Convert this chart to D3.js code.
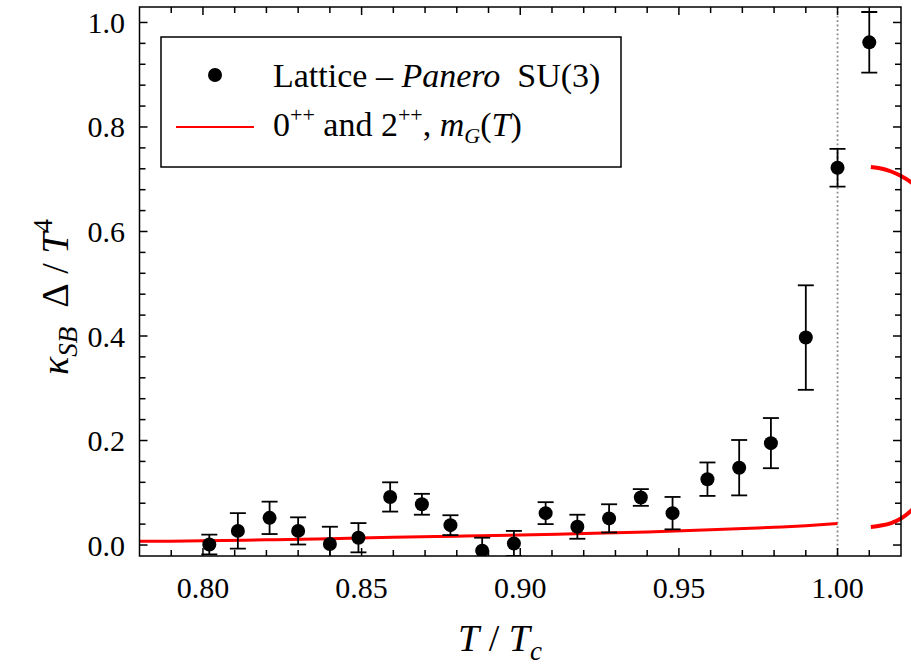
<!DOCTYPE html>
<html>
<head>
<meta charset="utf-8">
<script src="https://cdn.jsdelivr.net/npm/d3@7"></script>
<style>
  body { margin: 0; background: #fff; }
  svg text { font-family: "Liberation Serif", "Times New Roman", Times, serif; }
</style>
</head>
<body>
<div id="chart"></div>
<script>
// lattice points (Panero SU(3)), T/Tc, kappa_SB * Delta / T^4, error
const latticeT = [0.802, 0.811, 0.821, 0.830, 0.840, 0.849, 0.859, 0.869, 0.878, 0.888, 0.898,
                  0.908, 0.918, 0.928, 0.938, 0.948, 0.959, 0.969, 0.979, 0.990, 1.000, 1.010];
const latticeVal = [0.001, 0.027, 0.052, 0.027, 0.002, 0.014, 0.092, 0.078, 0.038, -0.011, 0.003,
                    0.061, 0.035, 0.051, 0.091, 0.061, 0.126, 0.148, 0.195, 0.397, 0.722, 0.962];
const latticeErr = [0.019, 0.034, 0.031, 0.026, 0.033, 0.028, 0.028, 0.020, 0.019, 0.025, 0.024,
                    0.021, 0.023, 0.027, 0.016, 0.031, 0.032, 0.053, 0.048, 0.100, 0.036, 0.058];

// model curve 0++ and 2++, m_G(T), below Tc
const curveT = [0.78, 0.80, 0.82, 0.84, 0.86, 0.88, 0.90, 0.92, 0.94, 0.96, 0.98, 0.99, 1.00];
const curveVal = [0.007, 0.008, 0.010, 0.012, 0.015, 0.017, 0.019, 0.022, 0.025, 0.029, 0.034, 0.037, 0.041];

// the two branches above Tc (they run off the frame)
const arcUpT = [1.0105, 1.0137, 1.0169, 1.0200, 1.0231, 1.0263];
const arcUpVal = [0.7234, 0.7206, 0.7148, 0.7062, 0.6947, 0.6790];
const arcLoT = [1.0105, 1.0137, 1.0169, 1.0200, 1.0231, 1.0263];
const arcLoVal = [0.0344, 0.0373, 0.0421, 0.0507, 0.0651, 0.0861];

const xTicks = [0.80, 0.85, 0.90, 0.95, 1.00];
const yTicks = [0.0, 0.2, 0.4, 0.6, 0.8, 1.0];

const width = 911, height = 665;
const plot = { left: 139.5, right: 901, top: 7, bottom: 556 };
const serif = "Liberation Serif, Times New Roman, Times, serif";
const nb = "\u00a0";

const x = d3.scaleLinear().domain([0.78, 1.02]).range([plot.left, plot.right]);
const y = d3.scaleLinear().domain([-0.0210, 1.0296]).range([plot.bottom, plot.top]);

const svg = d3.select("#chart").append("svg")
    .attr("width", width)
    .attr("height", height)
    .attr("font-family", serif);

svg.append("rect").attr("width", width).attr("height", height).attr("fill", "#fff");

svg.append("defs").append("clipPath").attr("id", "clip")
  .append("rect")
    .attr("x", plot.left).attr("y", plot.top)
    .attr("width", plot.right - plot.left).attr("height", plot.bottom - plot.top);

// dotted line at Tc
svg.append("line")
    .attr("x1", x(1.0)).attr("x2", x(1.0))
    .attr("y1", plot.top).attr("y2", plot.bottom)
    .attr("stroke", "#888")
    .attr("stroke-width", 1.8)
    .attr("stroke-dasharray", "1.8,2.6");

// model curves
const line = d3.line().x(d => x(d[0])).y(d => y(d[1])).curve(d3.curveMonotoneX);
svg.append("path")
    .attr("d", line(d3.zip(curveT, curveVal)))
    .attr("fill", "none").attr("stroke", "#f00").attr("stroke-width", 3);

const arcLine = d3.line().x(d => x(d[0])).y(d => y(d[1])).curve(d3.curveCatmullRom);
[[arcUpT, arcUpVal], [arcLoT, arcLoVal]].forEach(([ts, vs]) => {
    svg.append("path")
        .attr("d", arcLine(d3.zip(ts, vs)))
        .attr("fill", "none").attr("stroke", "#f00").attr("stroke-width", 4);
});

// lattice points with error bars
const pts = svg.append("g").attr("clip-path", "url(#clip)");
const lattice = d3.zip(latticeT, latticeVal, latticeErr);
const capW = 8;
lattice.forEach(([t, v, e]) => {
    const cx = x(t);
    const g = pts.append("g").attr("stroke", "#000").attr("stroke-width", 1.8);
    g.append("line").attr("x1", cx).attr("x2", cx).attr("y1", y(v - e)).attr("y2", y(v + e));
    g.append("line").attr("x1", cx - capW).attr("x2", cx + capW).attr("y1", y(v + e)).attr("y2", y(v + e));
    g.append("line").attr("x1", cx - capW).attr("x2", cx + capW).attr("y1", y(v - e)).attr("y2", y(v - e));
});
pts.selectAll("circle").data(lattice).join("circle")
    .attr("cx", d => x(d[0]))
    .attr("cy", d => y(d[1]))
    .attr("r", 7)
    .attr("fill", "#000");

// frame + ticks
const frame = svg.append("g").attr("stroke", "#000").attr("stroke-width", 1.5);
frame.append("rect")
    .attr("x", plot.left).attr("y", plot.top)
    .attr("width", plot.right - plot.left).attr("height", plot.bottom - plot.top)
    .attr("fill", "none");

const xMinor = d3.range(79, 102).map(i => i / 100);
xMinor.forEach(t => {
    const major = Math.abs(t * 20 - Math.round(t * 20)) < 1e-6;
    const len = major ? 8 : 6;
    frame.append("line").attr("x1", x(t)).attr("x2", x(t)).attr("y1", plot.bottom).attr("y2", plot.bottom - len);
    frame.append("line").attr("x1", x(t)).attr("x2", x(t)).attr("y1", plot.top).attr("y2", plot.top + len);
});
const yMinor = d3.range(0, 26).map(i => i * 0.04);
yMinor.forEach(v => {
    const major = Math.abs(v * 5 - Math.round(v * 5)) < 1e-6;
    const len = major ? 8 : 6;
    frame.append("line").attr("x1", plot.left).attr("x2", plot.left + len).attr("y1", y(v)).attr("y2", y(v));
    frame.append("line").attr("x1", plot.right).attr("x2", plot.right - len).attr("y1", y(v)).attr("y2", y(v));
});

// tick labels
svg.append("g").selectAll("text").data(xTicks).join("text")
    .attr("x", d => x(d))
    .attr("y", 598)
    .attr("text-anchor", "middle")
    .attr("font-family", serif)
    .attr("font-size", 30)
    .text(d => d3.format(".2f")(d));

svg.append("g").selectAll("text").data(yTicks).join("text")
    .attr("x", 125)
    .attr("y", d => y(d))
    .attr("dy", "0.35em")
    .attr("text-anchor", "end")
    .attr("font-family", serif)
    .attr("font-size", 30)
    .text(d => d3.format(".1f")(d));

// axis titles
const xl = svg.append("text")
    .attr("x", 500).attr("y", 651)
    .attr("text-anchor", "middle")
    .attr("font-family", serif)
    .attr("font-size", 38);
xl.append("tspan").attr("font-style", "italic").text("T");
xl.append("tspan").text(nb + "/" + nb);
xl.append("tspan").attr("font-style", "italic").text("T");
xl.append("tspan").attr("font-style", "italic").attr("font-size", 27).attr("dy", 9).text("c");

const yl = svg.append("text")
    .attr("transform", "translate(68,297) rotate(-90)")
    .attr("text-anchor", "middle")
    .attr("font-family", serif)
    .attr("font-size", 38);
yl.append("tspan").attr("font-style", "italic").text("κ");
yl.append("tspan").attr("font-style", "italic").attr("font-size", 27).attr("dy", 9).text("SB");
yl.append("tspan").attr("dy", -9).text(nb + nb + "Δ" + nb + "/" + nb);
yl.append("tspan").attr("font-style", "italic").text("T");
yl.append("tspan").attr("font-size", 27).attr("dy", -16).text("4");

// legend
const lg = svg.append("g");
lg.append("rect")
    .attr("x", 161).attr("y", 37).attr("width", 460).attr("height", 130)
    .attr("fill", "#fff").attr("stroke", "#000").attr("stroke-width", 1.5);
lg.append("circle").attr("cx", 215).attr("cy", 75).attr("r", 7).attr("fill", "#000");
lg.append("line").attr("x1", 176).attr("x2", 254).attr("y1", 127).attr("y2", 127)
    .attr("stroke", "#f00").attr("stroke-width", 2);

const t1 = lg.append("text").attr("x", 273).attr("y", 87)
    .attr("font-family", serif).attr("font-size", 34);
t1.append("tspan").text("Lattice \u2013 ");
t1.append("tspan").attr("font-style", "italic").text("Panero");
t1.append("tspan").text(nb + " SU(3)");

const t2 = lg.append("text").attr("x", 273).attr("y", 136)
    .attr("font-family", serif).attr("font-size", 34);
t2.append("tspan").text("0");
t2.append("tspan").attr("font-size", 22).attr("dy", -14).text("++");
t2.append("tspan").attr("dy", 14).text(" and 2");
t2.append("tspan").attr("font-size", 22).attr("dy", -14).text("++");
t2.append("tspan").attr("dy", 14).text(", ");
t2.append("tspan").attr("font-style", "italic").text("m");
t2.append("tspan").attr("font-style", "italic").attr("font-size", 22).attr("dy", 7).text("G");
t2.append("tspan").attr("dy", -7).text("(");
t2.append("tspan").attr("font-style", "italic").text("T");
t2.append("tspan").text(")");
</script>
</body>
</html>
